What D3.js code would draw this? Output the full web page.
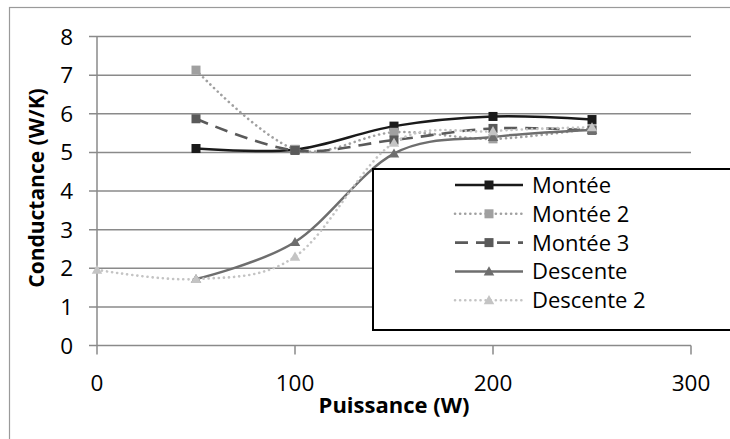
<!DOCTYPE html>
<html>
<head>
<meta charset="utf-8">
<script src="https://cdn.jsdelivr.net/npm/d3@7"></script>
<style>
html,body{margin:0;padding:0;background:#fff;}
svg{display:block;}
text{font-family:"Open Sans",sans-serif;}
</style>
</head>
<body>
<svg id="chart" width="730" height="439"></svg>
<script>
const xTicks = [0, 100, 200, 300];
const yTicks = [0, 1, 2, 3, 4, 5, 6, 7, 8];
const seriesNames = ["Montée", "Montée 2", "Montée 3", "Descente", "Descente 2"];
const xMontee = [50, 100, 150, 200, 250];
const montee = [5.10, 5.07, 5.68, 5.93, 5.85];
const montee2 = [7.13, 5.08, 5.52, 5.35, 5.62];
const montee3 = [5.87, 5.05, 5.32, 5.62, 5.57];
const xDescente = [50, 100, 150, 200, 250];
const descente = [1.72, 2.68, 4.97, 5.40, 5.58];
const xDescente2 = [0, 50, 100, 150, 200, 250];
const descente2 = [1.96, 1.72, 2.30, 5.25, 5.55, 5.65];

const svg = d3.select("#chart");
const pLeft = 97, pRight = 691, pTop = 36.5, pBottom = 345.5;
const x = d3.scaleLinear().domain([0, 300]).range([pLeft, pRight]);
const y = d3.scaleLinear().domain([0, 8]).range([pBottom, pTop]);
const gridColor = "#8a8a8a";

// outer border
svg.append("rect").attr("x", 9.5).attr("y", 7.5).attr("width", 900).attr("height", 900)
  .attr("fill", "#fff").attr("stroke", "#9a9a9a").attr("stroke-width", 1.2);

// gridlines
svg.append("g").selectAll("line").data(yTicks).join("line")
  .attr("x1", pLeft - 8).attr("x2", pRight)
  .attr("y1", d => y(d)).attr("y2", d => y(d))
  .attr("stroke", gridColor).attr("stroke-width", 1.5);

// y axis line
svg.append("line").attr("x1", pLeft).attr("x2", pLeft).attr("y1", pTop).attr("y2", pBottom)
  .attr("stroke", gridColor).attr("stroke-width", 1.5);
// x ticks
svg.append("g").selectAll("line").data(xTicks).join("line")
  .attr("x1", d => x(d)).attr("x2", d => x(d)).attr("y1", pBottom).attr("y2", pBottom + 9)
  .attr("stroke", gridColor).attr("stroke-width", 1.5);

// tick labels
svg.append("g").selectAll("text").data(yTicks).join("text")
  .attr("x", 73).attr("y", d => y(d)).attr("dy", "0.36em")
  .attr("text-anchor", "end").attr("font-size", 22.5).attr("fill", "#000").text(d => d);
svg.append("g").selectAll("text").data(xTicks).join("text")
  .attr("x", d => x(d)).attr("y", 383).attr("dy", "0.36em")
  .attr("text-anchor", "middle").attr("font-size", 22.5).attr("fill", "#000").text(d => d);

// axis titles
svg.append("text").attr("x", (pLeft + pRight) / 2).attr("y", 413)
  .attr("text-anchor", "middle").attr("font-size", 22).attr("font-weight", "bold").text("Puissance (W)");
svg.append("text").attr("transform", `translate(44,${(pTop + pBottom) / 2 - 3}) rotate(-90)`)
  .attr("text-anchor", "middle").attr("font-size", 21).attr("font-weight", "bold").text("Conductance (W/K)");

const styles = [
  {color: "#1a1a1a", dash: null, cap: "butt", marker: "square", width: 2.5},
  {color: "#a0a0a0", dash: "0.1 5", cap: "round", marker: "square", width: 2.6},
  {color: "#5a5a5a", dash: "13 8", cap: "butt", marker: "square", width: 2.6},
  {color: "#6e6e6e", dash: null, cap: "butt", marker: "triangle", width: 2.5},
  {color: "#c4c4c4", dash: "0.1 5", cap: "round", marker: "triangle", width: 2.6}
];
const data = [
  xMontee.map((v, i) => [v, montee[i]]),
  xMontee.map((v, i) => [v, montee2[i]]),
  xMontee.map((v, i) => [v, montee3[i]]),
  xDescente.map((v, i) => [v, descente[i]]),
  xDescente2.map((v, i) => [v, descente2[i]])
];
const line = d3.line().x(d => x(d[0])).y(d => y(d[1])).curve(d3.curveCardinal.tension(0));

function drawMarker(g, type, cx, cy, color) {
  if (type === "square") {
    g.append("rect").attr("x", cx - 4.5).attr("y", cy - 4.5).attr("width", 9).attr("height", 9).attr("fill", color);
  } else {
    const s = d3.symbol().type(d3.symbolTriangle).size(48);
    g.append("path").attr("d", s()).attr("transform", `translate(${cx},${cy + 1})`).attr("fill", color);
  }
}

const plot = svg.append("g");
data.forEach((pts, i) => {
  const st = styles[i];
  plot.append("path").attr("d", line(pts)).attr("fill", "none")
    .attr("stroke", st.color).attr("stroke-width", st.width)
    .attr("stroke-dasharray", st.dash).attr("stroke-linecap", st.cap);
});
data.forEach((pts, i) => {
  const st = styles[i];
  pts.forEach(p => drawMarker(plot, st.marker, x(p[0]), y(p[1]), st.color));
});

// legend
const lg = svg.append("g");
lg.append("rect").attr("x", 373).attr("y", 169).attr("width", 400).attr("height", 161)
  .attr("fill", "#fff").attr("stroke", "#000").attr("stroke-width", 2);
seriesNames.forEach((name, i) => {
  const st = styles[i];
  const cy = 185 + i * 28.8;
  lg.append("line").attr("x1", 455).attr("x2", 523).attr("y1", cy).attr("y2", cy)
    .attr("stroke", st.color).attr("stroke-width", st.width)
    .attr("stroke-dasharray", st.dash).attr("stroke-linecap", st.cap);
  drawMarker(lg, st.marker, 489, cy, st.color);
  lg.append("text").attr("x", 532).attr("y", cy).attr("dy", "0.36em")
    .attr("font-size", 22).attr("fill", "#000").text(name);
});
</script>
</body>
</html>
